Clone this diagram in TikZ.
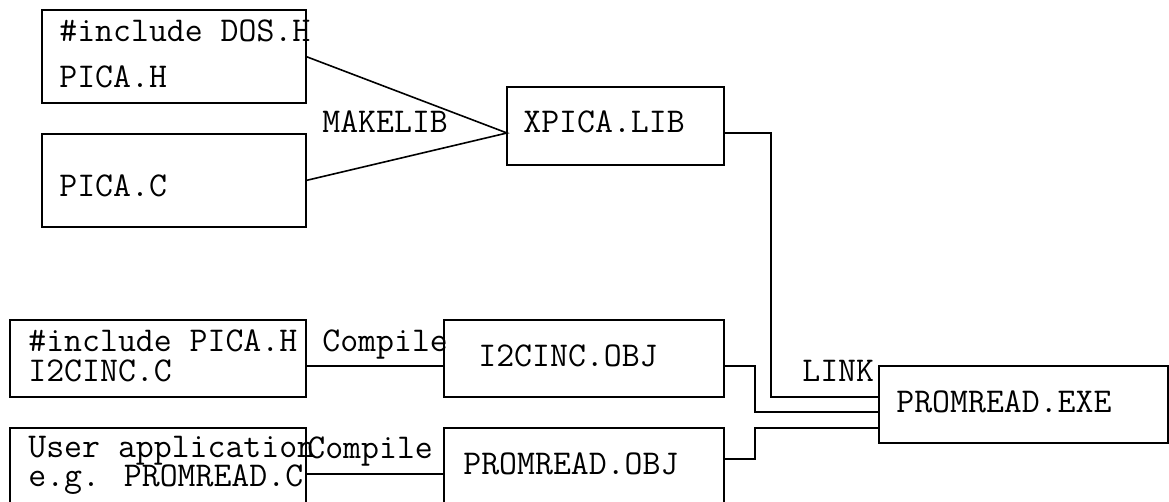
\documentclass[tikz,border=0pt]{standalone}
\usepackage{fontspec}
\usepackage{tikz}
\tikzset{
  box/.style={draw,line width=.8pt,inner sep=0pt,outer sep=0pt,anchor=north west},
  txt/.style={font=\ttfamily\fontsize{17.4}{20}\selectfont,inner sep=0pt,anchor=base west},
  wire/.style={line width=.8pt}
}

\begin{document}
\begin{tikzpicture}[x=.5pt,y=-.5pt]
\useasboundingbox (0,0) rectangle (1169,502);
\node[box,minimum width=132pt,minimum height=46.5pt] (dosh) at (42,10) {};
\node[box,minimum width=132pt,minimum height=46.5pt] (picac) at (42,134) {};
\node[box,minimum width=108.5pt,minimum height=39pt] (xlib) at (507,87) {};
\node[box,minimum width=148pt,minimum height=38.5pt] (i2c) at (10,320) {};
\node[box,minimum width=148pt,minimum height=39pt] (user) at (10,428) {};
\node[box,minimum width=140pt,minimum height=38.5pt] (i2obj) at (444,320) {};
\node[box,minimum width=140pt,minimum height=39pt] (probj) at (444,428) {};
\node[box,minimum width=144.5pt,minimum height=38.5pt] (exe) at (879,366) {};
\node[txt] (tdos) at (59,42) {\#include DOS.H};
\node[txt] (tpicah) at (59,88) {PICA.H};
\node[txt] (tpicac) at (59,197) {PICA.C};
\node[txt] (tmake) at (322,133) {MAKELIB};
\node[txt] (txlib) at (523,133) {XPICA.LIB};
\node[txt] (tinc) at (28,352) {\#include PICA.H};
\node[txt] (ti2c) at (28,382) {I2CINC.C};
\node[txt] (tuser) at (28,458) {User application};
\node[txt] (teg) at (28,487) {e.g. PROMREAD.C};
\node[txt] (tcomp1) at (322,352) {Compile};
\node[txt] (tcomp2) at (307,459) {Compile};
\node[txt] (ti2obj) at (478,367) {I2CINC.OBJ};
\node[txt] (tprobj) at (463,475) {PROMREAD.OBJ};
\node[txt] (tlink) at (802,382) {LINK};
\node[txt] (texe) at (896,413) {PROMREAD.EXE};
\coordinate (mk) at (507,133);
\draw[wire] (dosh.east) -- (mk) -- (picac.east);
\draw[wire] ([yshift=-3.5pt]xlib.east) -- ++(47,0) |- ([yshift=3.75pt]exe.west);
\draw[wire] ([yshift=-3.75pt]i2obj.east) -- ++(31,0) |- ([yshift=-3.75pt]exe.west);
\draw[wire] ([yshift=4pt]probj.east) -- ++(31,0) |- ([yshift=-11.75pt]exe.west);
\draw[wire] ([yshift=-3.75pt]i2c.east) -- ([yshift=-3.75pt]i2obj.west);
\draw[wire] ([yshift=-3.5pt]user.east) -- ([yshift=-3.5pt]probj.west);
\end{tikzpicture}
\end{document}
